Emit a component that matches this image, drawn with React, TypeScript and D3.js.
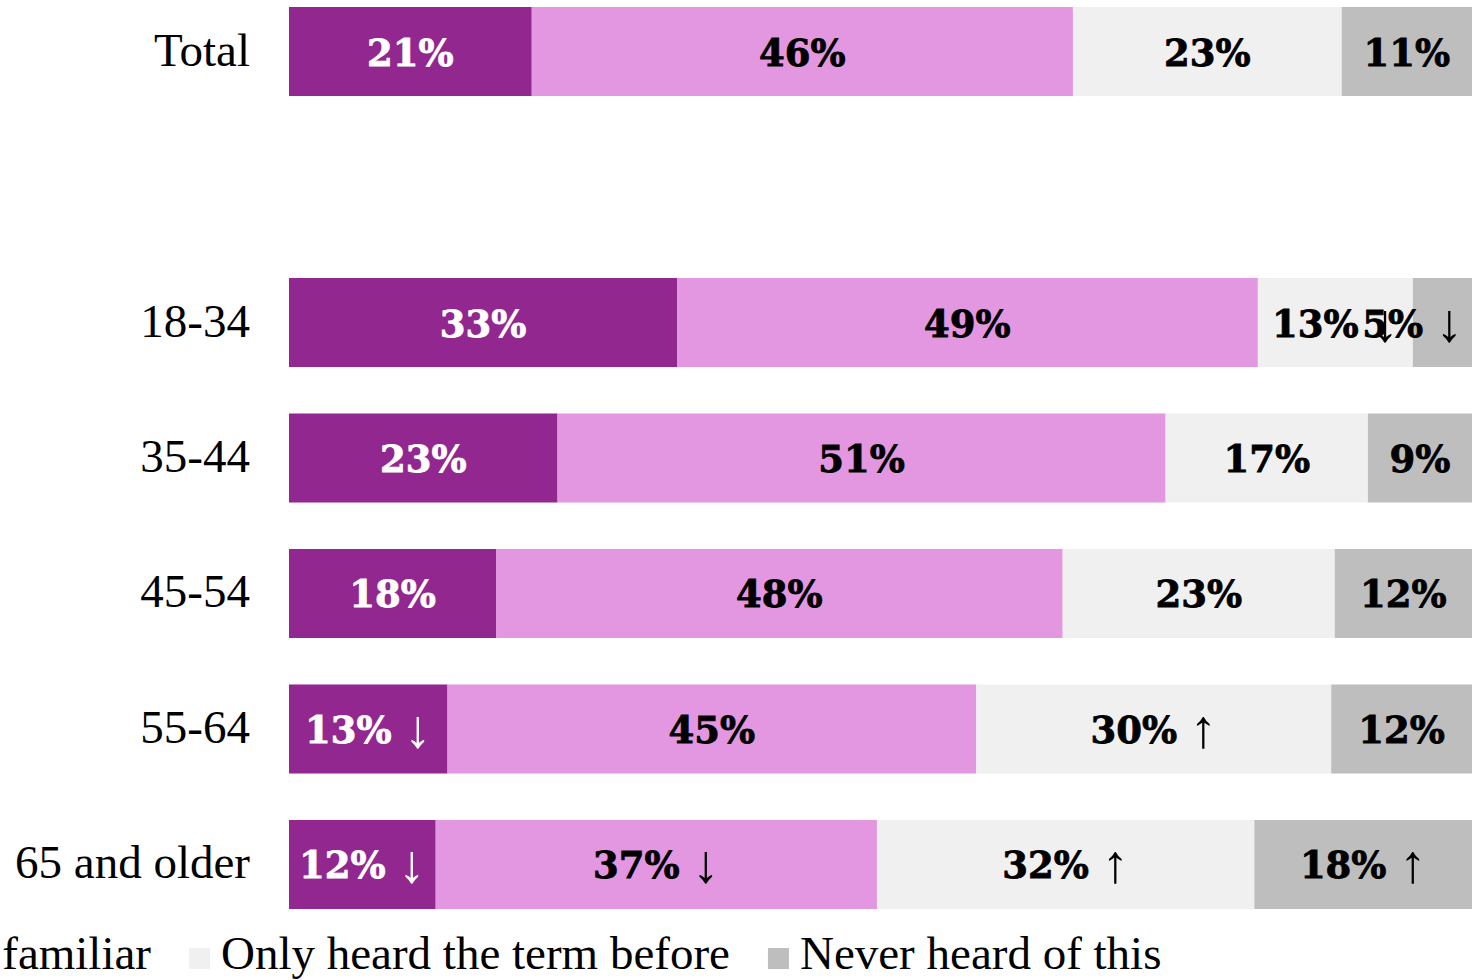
import React, { useEffect, useRef } from "react";
import * as d3 from "d3";

// ---- data ----
const groups = ["Total", "18-34", "35-44", "45-54", "55-64", "65 and older"];
const slots = ["Total", "__gap", "18-34", "35-44", "45-54", "55-64", "65 and older"];

const seriesNames = [
  "Very familiar",
  "Somewhat familiar",
  "Only heard the term before",
  "Never heard of this",
];
const seriesColors = ["#92278F", "#E397E0", "#F0F0F0", "#BEBEBE"];
const labelColors = ["#ffffff", "#000000", "#000000", "#000000"];

const veryFamiliar = [20.5, 32.8, 22.7, 17.5, 13.4, 12.4];
const somewhatFamiliar = [45.7, 49.1, 51.4, 47.9, 44.7, 37.3];
const onlyHeard = [22.7, 13.1, 17.1, 23.0, 30.0, 31.9];
const neverHeard = [11.0, 5.0, 8.8, 11.6, 11.9, 18.4];

const sigVery = ["", "", "", "", "↓", "↓"];
const sigSomewhat = ["", "", "", "", "", "↓"];
const sigOnly = ["", "↓", "", "", "↑", "↑"];
const sigNever = ["", "↓", "", "", "", "↑"];

const seriesValues = [veryFamiliar, somewhatFamiliar, onlyHeard, neverHeard];
const seriesSig = [sigVery, sigSomewhat, sigOnly, sigNever];

const W = 1481;
const H = 980;

export default function App() {
  const ref = useRef<SVGSVGElement>(null);

  useEffect(() => {
    document.body.style.margin = "0";
    const svg = d3.select(ref.current);
    svg.selectAll("*").remove();

    const x0 = 289;
    const x1 = 1472;
    const y = d3.scaleBand<string>().domain(slots).range([7, 909]).paddingInner(0.343).paddingOuter(0);

    const valueFont = "'DejaVu Serif', serif";
    const textFont = "'Liberation Serif', 'Times New Roman', serif";

    groups.forEach((g, gi) => {
      const vals = seriesValues.map((s) => s[gi]);
      const total = d3.sum(vals);
      const x = d3.scaleLinear().domain([0, total]).range([x0, x1]);
      const cum = d3.cumsum(vals);
      const yTop = y(g)!;
      const bh = y.bandwidth();
      const cy = yTop + bh / 2;

      // category label
      svg
        .append("text")
        .attr("x", 250)
        .attr("y", cy + 14)
        .attr("text-anchor", "end")
        .attr("font-family", textFont)
        .attr("font-size", 47)
        .attr("fill", "#000")
        .text(g);

      vals.forEach((v, si) => {
        const start = si === 0 ? 0 : cum[si - 1];
        const end = cum[si];
        svg
          .append("rect")
          .attr("x", x(start))
          .attr("y", yTop)
          .attr("width", x(end) - x(start))
          .attr("height", bh)
          .attr("fill", seriesColors[si]);
      });

      vals.forEach((v, si) => {
        const start = si === 0 ? 0 : cum[si - 1];
        const end = cum[si];
        const center = (x(start) + x(end)) / 2;
        const t = svg
          .append("text")
          .attr("x", center)
          .attr("y", cy + 14)
          .attr("text-anchor", "middle")
          .attr("fill", labelColors[si]);
        t.append("tspan")
          .attr("font-family", valueFont)
          .attr("font-weight", 700)
          .attr("font-size", 37)
          .attr("stroke", labelColors[si])
          .attr("stroke-width", 0.8)
          .text(Math.round(v) + "%");
        const sig = seriesSig[si][gi];
        if (sig) {
          t.append("tspan")
            .attr("font-family", valueFont)
            .attr("font-weight", 700)
            .attr("font-size", 37)
            .text("\u00a0");
          t.append("tspan")
            .attr("font-family", textFont)
            .attr("font-weight", 400)
            .attr("font-size", 54)
            .attr("dy", 4)
            .text(sig);
        }
        const w = (t.node() as SVGTextElement).getComputedTextLength();
        const maxC = x1 - 9 - w / 2;
        if (center > maxC) t.attr("x", maxC);
      });
    });

    // legend
    const sq = 21;
    const gapSq = 11;
    const gapItem = 38;
    const legendY = 969;
    const legendSize = 47;
    const measure = svg
      .append("text")
      .attr("font-family", textFont)
      .attr("font-size", legendSize)
      .attr("visibility", "hidden");
    const widths = seriesNames.map((n) => {
      measure.text(n);
      return (measure.node() as SVGTextElement).getComputedTextLength();
    });
    measure.remove();
    const xs: number[] = [];
    xs[2] = 189;
    xs[1] = xs[2] - gapItem - widths[1] - gapSq - sq;
    xs[0] = xs[1] - gapItem - widths[0] - gapSq - sq;
    xs[3] = xs[2] + sq + gapSq + widths[2] + gapItem;
    seriesNames.forEach((n, i) => {
      svg
        .append("rect")
        .attr("x", xs[i])
        .attr("y", legendY - sq)
        .attr("width", sq)
        .attr("height", sq)
        .attr("fill", seriesColors[i]);
      svg
        .append("text")
        .attr("x", xs[i] + sq + gapSq)
        .attr("y", legendY)
        .attr("font-family", textFont)
        .attr("font-size", legendSize)
        .attr("fill", "#000")
        .text(n);
    });
  }, []);

  return <svg ref={ref} width={W} height={H} style={{ display: "block" }} />;
}
